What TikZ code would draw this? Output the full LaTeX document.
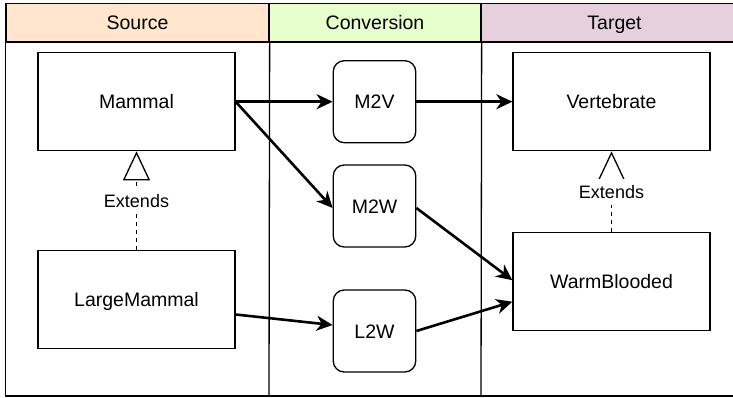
\documentclass[tikz,border=0pt]{standalone}
\usepackage{fontspec}
\setmainfont{Liberation Sans}
\usetikzlibrary{arrows.meta}
\definecolor{srcfill}{HTML}{FFE6CC}
\definecolor{convfill}{HTML}{E6FFCC}
\definecolor{tgtfill}{HTML}{E6D0DE}
\begin{document}
\begin{tikzpicture}[x=1pt,y=-1pt,
  laneline/.style={line width=1.3pt, draw=black},
  label text/.style={font=\fontsize{19.5}{23}\selectfont, text height=14pt, text depth=0pt},
  header/.style={laneline, label text, minimum height=38.5pt, inner sep=0pt, anchor=center},
  classbox/.style={draw, line width=1.3pt, minimum width=197pt, minimum height=98pt,
    inner sep=0pt, label text},
  convbox/.style={draw, line width=1.3pt, rounded corners=11pt, minimum width=82.5pt,
    minimum height=82pt, inner sep=0pt, label text},
  flow/.style={line width=2.6pt, -{Stealth[length=16pt,width=15pt,inset=5pt]}},
  extends/.style={line width=1.3pt, dash pattern=on 4pt off 4pt,
    -{Triangle[open,length=29pt,width=27pt]}},
  extlabel/.style={fill=white, inner xsep=2pt, inner ysep=4pt, text height=13pt, text depth=0pt,
    font=\fontsize{18}{21}\selectfont}
]
\useasboundingbox (0,0) rectangle (733,398);

% swimlane headers
\node[header, fill=srcfill, minimum width=263pt] (hsrc) at (137.5,22.75) {Source};
\node[header, fill=convfill, minimum width=212pt] (hconv) at (375,22.75) {Conversion};
\node[header, fill=tgtfill, minimum width=267pt] (htgt) at (614.5,22.75) {Target};

% swimlane bodies
\draw[laneline] (hsrc.south west) rectangle (748,396);
\draw[laneline] (hsrc.south east) -- (269,396);
\draw[laneline] (hconv.south east) -- (481,396);

% classes
\node[classbox] (mammal) at (136.5,101.7) {Mammal};
\node[classbox] (large) at (136.5,299.5) {LargeMammal};
\node[classbox] (vert) at (611.5,101.7) {Vertebrate};
\node[classbox] (warm) at (611.5,281.7) {WarmBlooded};

% conversions
\node[convbox] (m2v) at (374.5,101.7) {M2V};
\node[convbox] (m2w) at (374.5,206) {M2W};
\node[convbox] (l2w) at (374.5,331) {L2W};

% inheritance
\draw[extends] (large.north) -- (mammal.south)
  node[extlabel, pos=0.5] (extl) {Extends};
\draw[extends] (warm.north) -- (vert.south)
  node[extlabel, inner ysep=6.5pt, pos=0.5] (extr) {Extends};

% conversion flows
\draw[flow] (mammal.east) -- (m2v.west);
\draw[flow] (mammal.east) -- ([yshift=-2pt]m2w.west);
\draw[flow] (m2v.east) -- (vert.west);
\draw[flow] ([yshift=-2pt]m2w.east) -- ([yshift=1.5pt]warm.west);
\draw[flow] ([yshift=-15pt]large.east) -- ([yshift=6pt]l2w.west);
\draw[flow] (l2w.east) -- ([yshift=-20pt]warm.west);
\end{tikzpicture}
\end{document}
